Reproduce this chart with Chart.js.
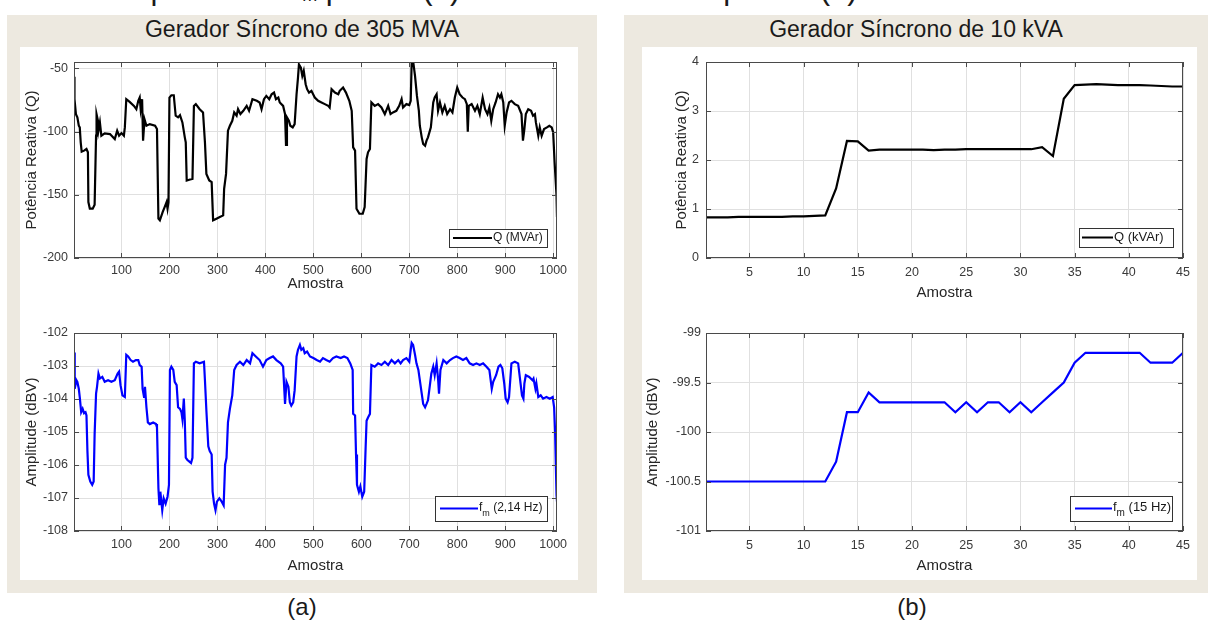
<!DOCTYPE html>
<html>
<head>
<meta charset="utf-8">
<script src="https://cdn.jsdelivr.net/npm/chart.js@4.4.1/dist/chart.umd.min.js"></script>
<style>
  body { margin: 0; width: 1208px; height: 626px; background: #fff; position: relative; overflow: hidden;
         font-family: 'Liberation Sans', Arial, sans-serif; color: #1a1a1a; }
  .panel { position: absolute; background: #ede9e0; }
  .inner { position: absolute; background: #fff; }
  canvas { position: absolute; }
  .ptitle { position: absolute; top: 15px; height: 28px; line-height: 28px; font-size: 23px; text-align: center; }
  .sub { position: absolute; top: 592px; font-size: 24px; line-height: 30px; width: 60px; text-align: center; }
  .caption { position: absolute; left: 104px; top: -27px; font-size: 31px; line-height: 31px; white-space: nowrap; }
</style>
</head>
<body>
<div class="caption">Amplitude de <i>f</i><sub style="font-size:18px;vertical-align:-2px">m</sub> para o (a) GS de 305 MVA e para o (b) GS de 10 kVA</div>

<div class="panel" style="left:7px;top:15px;width:590px;height:578px"></div>
<div class="inner" style="left:20px;top:47px;width:558px;height:533px"></div>
<div class="ptitle" style="left:7px;width:590px">Gerador Síncrono de 305 MVA</div>

<div class="panel" style="left:624px;top:15px;width:584px;height:578px"></div>
<div class="inner" style="left:642px;top:47px;width:555px;height:533px"></div>
<div class="ptitle" style="left:624px;width:584px">Gerador Síncrono de 10 kVA</div>

<canvas id="qLarge" width="558" height="260" style="left:20px;top:47px"></canvas>
<canvas id="fmLarge" width="558" height="280" style="left:20px;top:300px"></canvas>
<canvas id="qSmall" width="555" height="260" style="left:642px;top:47px"></canvas>
<canvas id="fmSmall" width="555" height="280" style="left:642px;top:300px"></canvas>

<div class="sub" style="left:272px">(a)</div>
<div class="sub" style="left:882px">(b)</div>

<script>
// ---- GS 305 MVA: reactive power (MVAr) ----
const qLargeX = [1, 2, 5, 8, 11, 13, 15, 17, 22, 27, 30, 31, 34, 40, 44, 47, 48, 51, 52, 55, 58, 65, 76, 86, 91, 95, 100, 105, 107,
  110, 117, 126, 131, 135, 138, 140, 143, 145, 148, 152, 159, 170, 174, 177, 180, 186, 190, 194, 196, 198, 200, 204, 209, 213,
  218, 222, 227, 232, 234, 236, 243, 248, 251, 255, 263, 270, 274, 277, 283, 288, 291, 298, 305, 312, 314, 318, 322, 326, 331,
  335, 340, 343, 348, 354, 361, 366, 373, 382, 388, 392, 397, 402, 408, 413, 418, 422, 427, 430, 437, 441, 443, 445, 449, 452,
  457, 461, 465, 468, 470, 474, 477, 480, 484, 487, 491, 496, 503, 510, 517, 524, 531, 534, 538, 545, 552, 555, 562, 568, 575,
  580, 583, 587, 590, 596, 603, 607, 611, 614, 618, 621, 628, 635, 642, 649, 656, 661, 666, 673, 679, 684, 687, 694, 700, 703,
  705, 708, 712, 716, 720, 722, 726, 729, 733, 736, 739, 745, 750, 753, 757, 760, 764, 769, 774, 779, 785, 790, 795, 800, 805,
  811, 816, 820, 822, 824, 830, 837, 842, 847, 853, 858, 863, 867, 871, 875, 880, 885, 889, 892, 896, 899, 903, 908, 913, 920,
  927, 934, 937, 940, 943, 948, 954, 958, 962, 964, 969, 972, 976, 981, 987, 992, 997, 1000, 1003, 1007, 1008];
const qLargeY = [-56.6, -74.4, -86.2, -88.8, -95.4, -96.7, -108.5, -115.9, -115.1, -113.8, -116.4, -155.8, -161, -161, -157.9,
  -103.3, -86.2, -91.5, -99.3, -92.8, -103.3, -101.4, -102, -105.9, -99.3, -103.3, -101.2, -103.3, -96.7,
  -74.4, -76.5, -79.7, -82.3, -75.7, -73.1, -82.3, -74.4, -107.2, -90.2, -95.4, -94.1, -95.4, -98, -168.9, -170.2, -163.6,
  -159.7, -155.8, -161, -155.8, -73.1, -71.3, -71.3, -87.5, -88.8, -87, -92.8, -104.6, -108.5, -138.7, -137.9, -137.4, -79.7,
  -78.3, -82.3, -84.9, -108.5, -133.5, -138.7, -140, -170.2, -168.9, -167.6, -166.3, -145.3, -133.5, -99.3, -95.4, -91.5,
  -84.9, -87.5, -82.3, -86.2, -83.6, -79.7, -83.6, -74.4, -75.7, -77, -82.3, -74.4, -71.8, -74.4, -70.5, -69.2, -74.4, -73.1,
  -77, -79.7, -86.2, -110.6, -88.8, -91.5, -95.4, -96.7, -94.1, -70.5, -57.3, -46.9, -49.5, -56, -52, -62.6, -66.5, -69.2,
  -67.8, -73.1, -75.7, -77, -78.3, -79.7, -81, -66.5, -69.2, -70.5, -67.8, -65.2, -69.2, -75.7, -83.6, -112.5, -115.1, -161,
  -165, -165, -159.7, -121.7, -116.4, -113.8, -77, -79.7, -78.3, -81, -86.2, -79.7, -86.2, -84.9, -83.6, -79.7, -74.4, -81,
  -78.3, -79.1, -75.7, -45.5, -44.2, -56, -71.8, -83.6, -95.4, -104.6, -109.8, -111.2, -107.2, -104.6, -96.7, -77, -73.1,
  -70.5, -83.6, -77, -84.9, -79.7, -86.2, -82.3, -84.9, -73.1, -65.2, -70.5, -73.1, -74.4, -78.3, -100.1, -79.7, -78.3, -83.6,
  -79.7, -86.2, -73.1, -82.3, -86.2, -81, -91.5, -82.3, -77, -70.5, -73.1, -70.5, -77, -95.4, -84.9, -77, -75.7, -78.3, -79.7,
  -86.2, -107.2, -98, -86.2, -82.3, -83.6, -87.5, -86.2, -92.8, -103.3, -96.7, -103.3, -98, -96.7, -95.4, -96.7, -100.7,
  -124.3, -150.5, -167.6];

// ---- GS 305 MVA: amplitude of fm (2,14 Hz), dBV ----
const fmLargeX = [1, 2, 3, 6, 8, 11, 13, 16, 19, 22, 25, 27, 29, 31, 35, 39, 42, 44, 47, 49, 52, 55, 60, 65, 72, 79, 86, 92, 95,
  98, 102, 107, 110, 114, 119, 124, 130, 135, 138, 142, 144, 147, 149, 152, 155, 159, 166, 172, 174, 177, 179, 181, 185, 188,
  192, 196, 199, 201, 204, 208, 211, 215, 218, 222, 225, 227, 230, 232, 234, 237, 241, 245, 248, 251, 255, 263, 272, 274, 277,
  281, 284, 288, 290, 293, 296, 299, 304, 309, 313, 316, 319, 322, 326, 331, 335, 340, 347, 354, 361, 368, 373, 380, 388, 395,
  402, 409, 416, 423, 432, 437, 441, 444, 448, 451, 454, 458, 461, 465, 468, 472, 475, 479, 482, 487, 493, 500, 507, 514, 520,
  527, 534, 541, 548, 557, 564, 571, 577, 582, 583, 587, 589, 591, 595, 598, 602, 606, 609, 611, 614, 618, 621, 628, 635, 642,
  649, 656, 663, 670, 677, 682, 687, 694, 700, 703, 705, 708, 712, 715, 719, 722, 726, 729, 733, 736, 739, 743, 746, 750, 753,
  757, 760, 762, 765, 771, 778, 785, 791, 798, 805, 812, 819, 826, 833, 840, 847, 854, 861, 867, 872, 875, 881, 886, 890, 894,
  898, 901, 905, 908, 913, 920, 927, 932, 935, 938, 940, 943, 950, 957, 959, 963, 965, 969, 974, 979, 986, 993, 999, 1002,
  1004, 1007, 1008];
const fmLargeY = [-102.59, -103.12, -103.69, -103.43, -103.48, -103.69, -103.94, -104.4, -104.3, -104.43, -104.4, -104.5,
  -105.58, -106.3, -106.5, -106.6, -106.5, -105.07, -103.84, -103.63, -103.23, -103.38, -103.33, -103.48, -103.43, -103.48,
  -103.43, -103.23, -103.17, -103.58, -103.89, -103.94, -102.66, -102.71, -102.82, -102.87, -102.82, -102.82, -102.97,
  -103.02, -103.69, -103.94, -103.63, -104.25, -104.71, -104.76, -104.71, -104.76, -104.86, -106.7, -107.22, -106.81,
  -107.37, -107.01, -107.17, -106.96, -106.6, -103.12, -103.02, -103.12, -103.48, -103.58, -104.25, -104.3, -104.4, -104.61,
  -103.99, -104.66, -105.78, -105.84, -105.89, -105.94, -105.78, -102.92, -102.87, -102.92, -102.87, -103.43, -104.35,
  -105.43, -105.58, -105.68, -106.81, -107.17, -107.37, -107.11, -107.01, -107.11, -107.22, -105.99, -105.78, -104.71,
  -104.3, -103.89, -103.12, -102.97, -102.87, -102.97, -102.82, -102.92, -102.61, -102.71, -102.82, -103.02, -102.82,
  -102.76, -102.71, -102.82, -102.92, -103.02, -104.15, -103.48, -103.63, -104.1, -104.2, -104.1, -103.74, -102.71, -102.51,
  -102.36, -102.51, -102.46, -102.61, -102.56, -102.71, -102.76, -102.82, -102.87, -102.76, -102.82, -102.87, -102.76,
  -102.71, -102.76, -102.71, -102.76, -102.92, -103.12, -104.45, -104.5, -105.68, -106.6, -106.81, -106.65, -106.96,
  -106.81, -105.48, -104.66, -104.56, -104.45, -102.97, -103.02, -102.92, -102.97, -102.87, -102.97, -102.82, -102.92,
  -102.82, -102.92, -102.82, -102.76, -102.87, -102.51, -102.3, -102.36, -102.66, -102.92, -103.12, -103.43, -103.84,
  -104.15, -104.25, -104.15, -104.04, -103.58, -103.23, -103.02, -103.28, -102.92, -103.38, -103.84, -103.12, -102.82,
  -102.92, -102.82, -102.76, -102.71, -102.76, -102.82, -102.76, -102.92, -102.97, -102.92, -102.97, -102.92, -103.02,
  -103.12, -103.69, -103.48, -103.28, -103.02, -102.97, -103.07, -103.53, -103.99, -104.1, -103.94, -102.92, -102.87,
  -102.92, -103.53, -103.89, -103.99, -103.53, -103.28, -103.33, -103.43, -103.38, -103.69, -103.53, -103.94, -103.89,
  -103.99, -103.94, -103.99, -103.94, -104.25, -104.97, -106.91, -107.11];

// ---- GS 10 kVA ----
const amostraSmall = [1, 2, 3, 4, 5, 6, 7, 8, 9, 10, 11, 12, 13, 14, 15, 16, 17, 18, 19, 20, 21, 22, 23, 24, 25, 26, 27, 28, 29,
  30, 31, 32, 33, 34, 35, 36, 37, 38, 39, 40, 41, 42, 43, 44, 45];
const qSmall = [0.83, 0.83, 0.83, 0.84, 0.84, 0.84, 0.84, 0.84, 0.85, 0.85, 0.86, 0.87, 1.42, 2.39, 2.38, 2.19, 2.21, 2.21,
  2.21, 2.21, 2.21, 2.2, 2.21, 2.21, 2.22, 2.22, 2.22, 2.22, 2.22, 2.22, 2.22, 2.26, 2.08, 3.25, 3.53, 3.54, 3.55, 3.54,
  3.53, 3.53, 3.53, 3.52, 3.51, 3.5, 3.5];
const fmSmall = [-100.5, -100.5, -100.5, -100.5, -100.5, -100.5, -100.5, -100.5, -100.5, -100.5, -100.5, -100.5, -100.3,
  -99.8, -99.8, -99.6, -99.7, -99.7, -99.7, -99.7, -99.7, -99.7, -99.7, -99.8, -99.7, -99.8, -99.7, -99.7, -99.8, -99.7,
  -99.8, -99.7, -99.6, -99.5, -99.3, -99.2, -99.2, -99.2, -99.2, -99.2, -99.2, -99.3, -99.3, -99.3, -99.2];

// ---- tick labels ----
const xTicksLarge = [100, 200, 300, 400, 500, 600, 700, 800, 900, 1000];
const yTicksQLarge = [-200, -150, -100, -50];
const yTicksFmLarge = [-108, -107, -106, -105, -104, -103, -102];
const xTicksSmall = [5, 10, 15, 20, 25, 30, 35, 40, 45];
const yTicksQSmall = [0, 1, 2, 3, 4];
const yTicksFmSmall = [-101, -100.5, -100, -99.5, -99];

const FONT = "'Liberation Sans', Arial, sans-serif";

// MATLAB-like box: frame, inward ticks and a legend inside the lower right corner
const boxPlugin = {
  id: 'box',
  afterDraw(chart, args, opts) {
    const { ctx, chartArea: a } = chart;
    const xs = chart.scales.x, ys = chart.scales.y;
    ctx.save();
    ctx.strokeStyle = '#4a4a4a';
    ctx.lineWidth = 1;
    ctx.beginPath();
    xs.ticks.forEach(t => {
      const p = Math.round(xs.getPixelForValue(t.value)) + 0.5;
      ctx.moveTo(p, a.bottom); ctx.lineTo(p, a.bottom - 5);
      ctx.moveTo(p, a.top); ctx.lineTo(p, a.top + 5);
    });
    ys.ticks.forEach(t => {
      const p = Math.round(ys.getPixelForValue(t.value)) + 0.5;
      ctx.moveTo(a.left, p); ctx.lineTo(a.left + 5, p);
      ctx.moveTo(a.right, p); ctx.lineTo(a.right - 5, p);
    });
    ctx.stroke();
    ctx.strokeRect(Math.round(a.left) + 0.5, Math.round(a.top) + 0.5, Math.round(a.width) - 1, Math.round(a.height) - 1);

    const lg = opts.legend;
    const ds = chart.data.datasets[0];
    const bx = Math.round(a.right - lg.right - lg.w), by = Math.round(a.bottom - lg.bottom - lg.h);
    ctx.fillStyle = '#fff';
    ctx.fillRect(bx, by, lg.w, lg.h);
    ctx.strokeStyle = '#333';
    ctx.strokeRect(bx + 0.5, by + 0.5, lg.w, lg.h);
    const cy = by + lg.h / 2;
    ctx.strokeStyle = ds.borderColor;
    ctx.lineWidth = 2;
    ctx.beginPath();
    ctx.moveTo(bx + lg.pad, cy);
    ctx.lineTo(bx + lg.pad + lg.len, cy);
    ctx.stroke();
    ctx.fillStyle = '#1a1a1a';
    ctx.textBaseline = 'middle';
    ctx.font = lg.size + 'px ' + FONT;
    let tx = bx + lg.pad + lg.len + 1;
    ctx.fillText(lg.main, tx, cy - (lg.sub ? 1 : 0));
    tx += ctx.measureText(lg.main).width;
    if (lg.sub) {
      ctx.font = Math.round(lg.size * 0.75) + 'px ' + FONT;
      ctx.fillText(lg.sub, tx, cy + 5);
      tx += ctx.measureText(lg.sub).width;
      ctx.font = lg.size + 'px ' + FONT;
      ctx.fillText(lg.rest, tx, cy - 1);
    }
    ctx.restore();
  }
};

function makeChart(id, c) {
  const pts = c.xs.map((x, i) => ({ x: x, y: c.ys[i] }));
  return new Chart(document.getElementById(id), {
    type: 'line',
    data: { datasets: [{ label: c.label, data: pts, borderColor: c.color, borderWidth: 2.2, pointRadius: 0, tension: 0, fill: false }] },
    options: {
      responsive: false,
      animation: false,
      devicePixelRatio: 1,
      layout: { padding: { left: 0, right: c.padRight, top: c.padTop, bottom: 0 } },
      plugins: {
        legend: { display: false },
        tooltip: { enabled: false },
        box: { legend: c.legend }
      },
      scales: {
        x: {
          type: 'linear', min: c.xMin, max: c.xMax,
          afterBuildTicks: s => { s.ticks = c.xTicks.map(v => ({ value: v })); },
          afterFit: s => { s.height = 49; },
          grid: { color: '#e0e0e0', drawTicks: false },
          border: { display: false },
          ticks: { autoSkip: false, maxRotation: 0, padding: c.xPad, color: '#3a3a3a', font: { family: FONT, size: c.tickSize },
                   callback: v => String(v) },
          title: { display: true, text: 'Amostra', color: '#262626', font: { family: FONT, size: 15 }, padding: { top: 0, bottom: c.xTitlePad } }
        },
        y: {
          type: 'linear', min: c.yMin, max: c.yMax,
          afterBuildTicks: s => { s.ticks = c.yTicks.map(v => ({ value: v })); },
          afterFit: s => { s.width = c.yWidth; },
          grid: { color: '#e0e0e0', drawTicks: false },
          border: { display: false },
          ticks: { padding: c.yPad, color: '#3a3a3a', font: { family: FONT, size: c.tickSize }, callback: v => String(v) },
          title: { display: true, text: c.yTitle, color: '#262626', font: { family: FONT, size: 15 }, padding: { top: c.yTitlePad, bottom: 0 } }
        }
      }
    },
    plugins: [boxPlugin]
  });
}

makeChart('qLarge', {
  xs: qLargeX, ys: qLargeY, label: 'Q (MVAr)', color: '#000000',
  xMin: 1, xMax: 1008, yMin: -200, yMax: -45, xTicks: xTicksLarge, yTicks: yTicksQLarge,
  padRight: 21, padTop: 15, yWidth: 54, yPad: 6, xPad: 5, yTitlePad: 3, xTitlePad: 14, tickSize: 12.5,
  yTitle: 'Potência Reativa (Q)',
  legend: { w: 98, h: 18, right: 10, bottom: 11, pad: 4, len: 39, size: 12, main: 'Q (MVAr)' }
});

makeChart('fmLarge', {
  xs: fmLargeX, ys: fmLargeY, label: 'fm (2,14 Hz)', color: '#0000ff',
  xMin: 1, xMax: 1008, yMin: -108, yMax: -102, xTicks: xTicksLarge, yTicks: yTicksFmLarge,
  padRight: 21, padTop: 33, yWidth: 54, yPad: 6, xPad: 6, yTitlePad: 3, xTitlePad: 5, tickSize: 12.5,
  yTitle: 'Amplitude (dBV)',
  legend: { w: 112, h: 25, right: 10, bottom: 10, pad: 5, len: 38, size: 12, main: 'f', sub: 'm', rest: ' (2,14 Hz)' }
});

makeChart('qSmall', {
  xs: amostraSmall, ys: qSmall, label: 'Q (kVAr)', color: '#000000',
  xMin: 1, xMax: 45, yMin: 0, yMax: 4, xTicks: xTicksSmall, yTicks: yTicksQSmall,
  padRight: 8, padTop: 15, yWidth: 64, yPad: 7, xPad: 7, yTitlePad: 31, xTitlePad: 5, tickSize: 12.5,
  yTitle: 'Potência Reativa (Q)',
  legend: { w: 94, h: 19, right: 10, bottom: 11, pad: 3, len: 31, size: 13, main: 'Q (kVAr)' }
});

makeChart('fmSmall', {
  xs: amostraSmall, ys: fmSmall, label: 'fm (15 Hz)', color: '#0000ff',
  xMin: 1, xMax: 45, yMin: -101, yMax: -99, xTicks: xTicksSmall, yTicks: yTicksFmSmall,
  padRight: 8, padTop: 33, yWidth: 64, yPad: 5, xPad: 7, yTitlePad: 2, xTitlePad: 5, tickSize: 12.5,
  yTitle: 'Amplitude (dBV)',
  legend: { w: 102, h: 25, right: 11, bottom: 10, pad: 5, len: 37, size: 13, main: 'f', sub: 'm', rest: ' (15 Hz)' }
});
</script>
</body>
</html>
